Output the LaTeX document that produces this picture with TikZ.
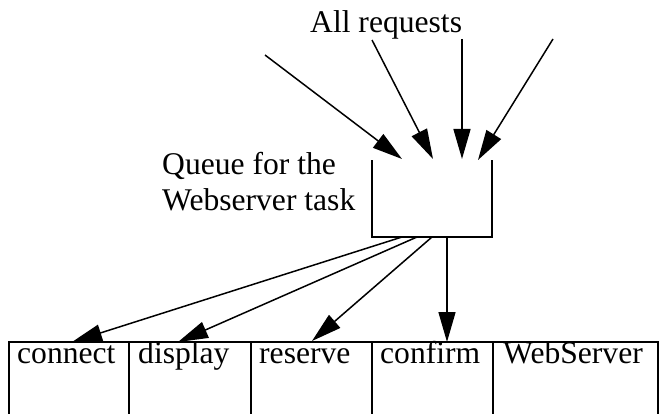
\documentclass[tikz,border=0pt]{standalone}
\usepackage{fontspec}
\setmainfont{Liberation Serif}
\usetikzlibrary{arrows.meta,calc}

\tikzset{
  lbl/.style={font=\fontsize{31.6}{36}\selectfont, inner sep=0pt, anchor=base west},
  wire/.style={line width=1.5pt},
  flow/.style={wire, -{Triangle[length=30pt,width=17pt]}},
  cell/.style={draw, line width=1.5pt, rectangle, inner sep=0pt, outer sep=0pt,
    minimum height=90pt, anchor=north west},
}

\begin{document}
\begin{tikzpicture}[x=1pt,y=-1pt]
  \clip (0,0) rectangle (660,414);
  \fill[white] (0,0) rectangle (660,414);

  % queue of the web server task (open at the top)
  \node[rectangle, inner sep=0pt, outer sep=0pt, minimum width=120pt,
        minimum height=77pt, anchor=north west] (queue) at (372,160) {};
  \draw[wire] (queue.north west) -- (queue.south west) -- (queue.south east)
    -- (queue.north east);

  \node[lbl] (all) at (310,33) {All requests};
  \node[lbl, align=left, anchor=north west] (qlabel) at (162,152)
    {Queue for the\\Webserver task};

  % incoming requests
  \coordinate (s1) at (265,55);  \coordinate (e1) at (402,159);
  \coordinate (s2) at (372,40);  \coordinate (e2) at (433,159);
  \coordinate (s3) at (462,39);  \coordinate (e3) at (462,159);
  \coordinate (s4) at (553,39);  \coordinate (e4) at (478,160);
  \foreach \i in {1,...,4} \draw[flow] (s\i) -- (e\i);

  % entries of the task
  \node[cell, minimum width=120pt] (connect) at (9,342) {};
  \node[cell, minimum width=122pt] (display) at (connect.north east) {};
  \node[cell, minimum width=121pt] (reserve) at (display.north east) {};
  \node[cell, minimum width=121pt] (confirm) at (reserve.north east) {};
  \node[cell, minimum width=165pt] (webserver) at (confirm.north east) {};

  \node[lbl] (tconnect) at ($(connect.north west)+(8,21)$) {connect};
  \node[lbl] (tdisplay) at ($(display.north west)+(9,21)$) {display};
  \node[lbl] (treserve) at ($(reserve.north west)+(8,21)$) {reserve};
  \node[lbl] (tconfirm) at ($(confirm.north west)+(8,21)$) {confirm};
  \node[lbl] (twebserver) at ($(webserver.north west)+(10,21)$) {WebServer};

  % dispatch from the queue to the entries
  \coordinate (o1) at (402,237);
  \coordinate (o2) at (417,237);
  \coordinate (o3) at (432,237);
  \coordinate (o4) at (447,237);
  \draw[flow] (o1) -- ($(connect.north west)+(63,0)$);
  \draw[flow] (o2) -- ($(display.north west)+(49,0)$);
  \draw[flow] (o3) -- ($(reserve.north west)+(61,-1)$);
  \draw[flow] (o4) -- ($(confirm.north west)+(75,0)$);
\end{tikzpicture}
\end{document}
